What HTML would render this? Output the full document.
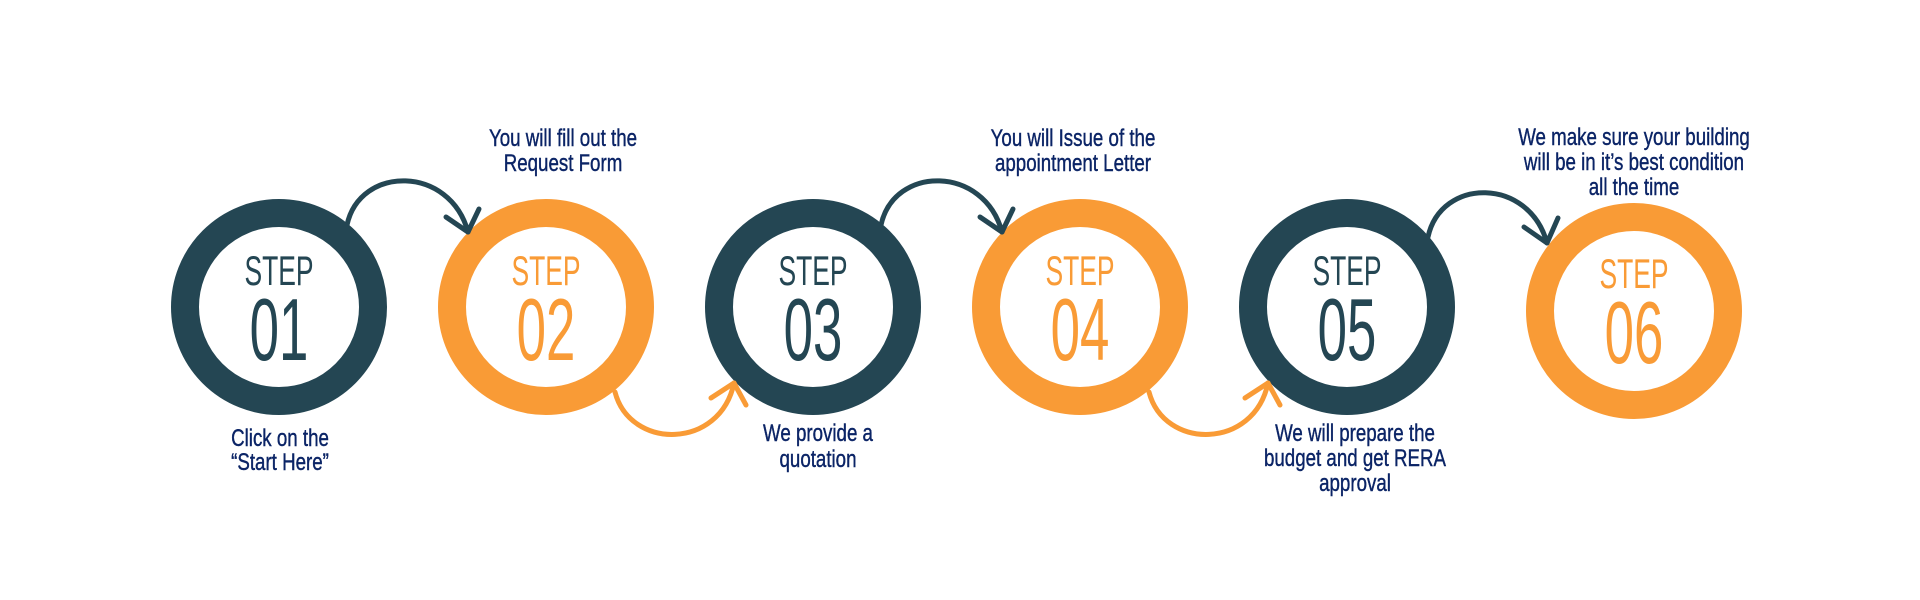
<!DOCTYPE html>
<html><head><meta charset="utf-8"><style>html,body{margin:0;padding:0;background:#fff}svg{display:block}</style></head>
<body>
<svg width="1920" height="600" viewBox="0 0 1920 600" xmlns="http://www.w3.org/2000/svg">
<defs>
<style>
.st{font-family:"Liberation Sans",sans-serif;font-size:42px;text-anchor:middle}
.nm{font-family:"Liberation Sans",sans-serif;font-size:88px;text-anchor:middle}
.lb{font-family:"Liberation Sans",sans-serif;font-size:24px;fill:#0b2466;text-anchor:middle;stroke:#0b2466;stroke-width:0.4}
</style>
</defs>
<g fill="none" stroke-width="28">
<circle cx="279" cy="307" r="94" stroke="#244653"/>
<circle cx="546" cy="307" r="94" stroke="#f99b36"/>
<circle cx="813" cy="307" r="94" stroke="#244653"/>
<circle cx="1080" cy="307" r="94" stroke="#f99b36"/>
<circle cx="1347" cy="307" r="94" stroke="#244653"/>
<circle cx="1634" cy="311" r="94" stroke="#f99b36"/>
</g>
<g fill="none" stroke-width="5" stroke-linecap="round" stroke-linejoin="round">
<g stroke="#244653">
<path d="M347,225 C360,165 450,165 468,232"/><path d="M446,217 L468,232 L479,209"/>
<path d="M881,225 C894,165 984,165 1002,232"/><path d="M980,217 L1002,232 L1013,209"/>
<path d="M1428,237 C1441,177 1529,177 1547,243"/><path d="M1524,227 L1547,243 L1558,218"/>
</g>
<g stroke="#f99b36">
<path d="M615,392 C630,450 720,450 734,383"/><path d="M711,398 L734,383 L746,405"/>
<path d="M1149,392 C1164,450 1254,450 1268,383"/><path d="M1245,398 L1268,383 L1280,405"/>
</g>
</g>
<g>
<text class="st" fill="#244653" transform="translate(279,285) scale(0.63,1)">STEP</text>
<text class="nm" fill="#244653" transform="translate(279,360) scale(0.6,1)">01</text>
<text class="st" fill="#f99b36" transform="translate(546,285) scale(0.63,1)">STEP</text>
<text class="nm" fill="#f99b36" transform="translate(546,360) scale(0.6,1)">02</text>
<text class="st" fill="#244653" transform="translate(813,285) scale(0.63,1)">STEP</text>
<text class="nm" fill="#244653" transform="translate(813,360) scale(0.6,1)">03</text>
<text class="st" fill="#f99b36" transform="translate(1080,285) scale(0.63,1)">STEP</text>
<text class="nm" fill="#f99b36" transform="translate(1080,360) scale(0.6,1)">04</text>
<text class="st" fill="#244653" transform="translate(1347,285) scale(0.63,1)">STEP</text>
<text class="nm" fill="#244653" transform="translate(1347,360) scale(0.6,1)">05</text>
<text class="st" fill="#f99b36" transform="translate(1634,288) scale(0.63,1)">STEP</text>
<text class="nm" fill="#f99b36" transform="translate(1634,363) scale(0.6,1)">06</text>
</g>
<g>
<text class="lb" transform="translate(280,446) scale(0.78,1)">Click on the</text>
<text class="lb" transform="translate(280,470) scale(0.78,1)">“Start Here”</text>
<text class="lb" transform="translate(563,146) scale(0.78,1)">You will fill out the</text>
<text class="lb" transform="translate(563,171) scale(0.78,1)">Request Form</text>
<text class="lb" transform="translate(818,441) scale(0.78,1)">We provide a</text>
<text class="lb" transform="translate(818,467) scale(0.78,1)">quotation</text>
<text class="lb" transform="translate(1073,146) scale(0.78,1)">You will Issue of the</text>
<text class="lb" transform="translate(1073,171) scale(0.78,1)">appointment Letter</text>
<text class="lb" transform="translate(1355,441) scale(0.78,1)">We will prepare the</text>
<text class="lb" transform="translate(1355,466) scale(0.78,1)">budget and get RERA</text>
<text class="lb" transform="translate(1355,491) scale(0.78,1)">approval</text>
<text class="lb" transform="translate(1634,145) scale(0.78,1)">We make sure your building</text>
<text class="lb" transform="translate(1634,170) scale(0.78,1)">will be in it’s best condition</text>
<text class="lb" transform="translate(1634,195) scale(0.78,1)">all the time</text>
</g>
</svg>
</body></html>
